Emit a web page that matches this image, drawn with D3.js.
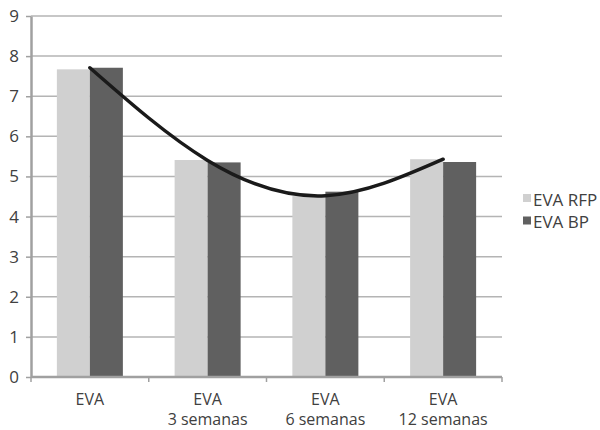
<!DOCTYPE html>
<html>
<head>
<meta charset="utf-8">
<script src="https://cdn.jsdelivr.net/npm/d3@7"></script>
<style>
  html, body { margin: 0; padding: 0; background: #fff; }
  svg { display: block; font-family: "Open Sans", sans-serif; }
  text { fill: #404040; }
</style>
</head>
<body>
<svg id="chart" width="600" height="430"></svg>
<script>
// Pain score (EVA) by follow-up time, for the two groups
const categories = ["EVA", "EVA\n3 semanas", "EVA\n6 semanas", "EVA\n12 semanas"];
const seriesNames = ["EVA RFP", "EVA BP"];
const evaRFP = [7.67, 5.41, 4.51, 5.43];
const evaBP  = [7.71, 5.35, 4.62, 5.36];
const trendValues = [7.71, 5.40, 4.52, 5.43];
const yTicks = [0, 1, 2, 3, 4, 5, 6, 7, 8, 9];
const colors = ["#d0d0d0", "#606060"];

const svg = d3.select("#chart");
const plotLeft = 31, plotRight = 502, plotTop = 16, plotBottom = 377;

const x0 = d3.scaleBand().domain(categories).range([plotLeft, plotRight]).padding(0);
const x1 = d3.scaleBand().domain(seriesNames).range([0, x0.bandwidth()])
  .paddingInner(0).paddingOuter(0.784);
const y = d3.scaleLinear().domain([0, 9]).range([plotBottom, plotTop]);

// horizontal gridlines
svg.append("g").selectAll("line").data(yTicks.filter(d => d > 0)).join("line")
  .attr("x1", plotLeft).attr("x2", plotRight)
  .attr("y1", d => y(d)).attr("y2", d => y(d))
  .attr("stroke", "#b4b4b4").attr("stroke-width", 1.5);

// bars
const rows = categories.map((c, i) => ({ cat: c, vals: [evaRFP[i], evaBP[i]] }));
const groups = svg.append("g").selectAll("g").data(rows).join("g")
  .attr("transform", d => `translate(${x0(d.cat)},0)`);
groups.selectAll("rect").data(d => d.vals.map((v, j) => ({ name: seriesNames[j], v, j }))).join("rect")
  .attr("x", d => x1(d.name))
  .attr("width", x1.bandwidth())
  .attr("y", d => y(d.v))
  .attr("height", d => y(0) - y(d.v))
  .attr("fill", d => colors[d.j]);

// y axis
const yAxis = d3.axisLeft(y).tickValues(yTicks).tickSize(5).tickSizeOuter(0);
const gy = svg.append("g").attr("transform", `translate(${plotLeft},0)`).call(yAxis);
gy.select(".domain").attr("stroke", "#a0a0a0").attr("stroke-width", 2.5);
gy.selectAll(".tick line").attr("stroke", "#a0a0a0").attr("stroke-width", 1.5);
gy.selectAll(".tick text").attr("x", -12).attr("font-size", 17)
  .attr("font-family", "Open Sans, sans-serif").style("fill", "#404040");

// x axis baseline and boundary ticks
svg.append("line").attr("x1", plotLeft).attr("x2", plotRight)
  .attr("y1", y(0)).attr("y2", y(0)).attr("stroke", "#a0a0a0").attr("stroke-width", 2.5);
const bounds = categories.map(c => x0(c)).concat([x0.range()[1]]);
svg.append("g").selectAll("line").data(bounds).join("line")
  .attr("x1", d => d).attr("x2", d => d)
  .attr("y1", y(0)).attr("y2", y(0) + 5)
  .attr("stroke", "#a0a0a0").attr("stroke-width", 1.5);

// category labels
const labels = svg.append("g").selectAll("text").data(categories).join("text")
  .attr("text-anchor", "middle").attr("font-size", 16)
  .attr("x", d => x0(d) + x0.bandwidth() / 2)
  .attr("y", 405);
labels.selectAll("tspan").data(d => d.split("\n")).join("tspan")
  .attr("x", function () { return d3.select(this.parentNode).attr("x"); })
  .attr("dy", (d, i) => i === 0 ? 0 : 20)
  .text(d => d);

// trend curve
const line = d3.line()
  .x((d, i) => x0(categories[i]) + x0.bandwidth() / 2)
  .y(d => y(d))
  .curve(d3.curveNatural);
svg.append("path").datum(trendValues)
  .attr("d", line).attr("fill", "none")
  .attr("stroke", "#1a1a1a").attr("stroke-width", 3.5).attr("stroke-linecap", "round");

// legend
const legend = svg.append("g").selectAll("g").data(seriesNames).join("g")
  .attr("transform", (d, i) => `translate(523,${194 + i * 22.5})`);
legend.append("rect").attr("width", 8).attr("height", 8).attr("fill", (d, i) => colors[i]);
legend.append("text").attr("x", 10).attr("y", 11.5).attr("font-size", 17).text(d => d);
</script>
</body>
</html>
